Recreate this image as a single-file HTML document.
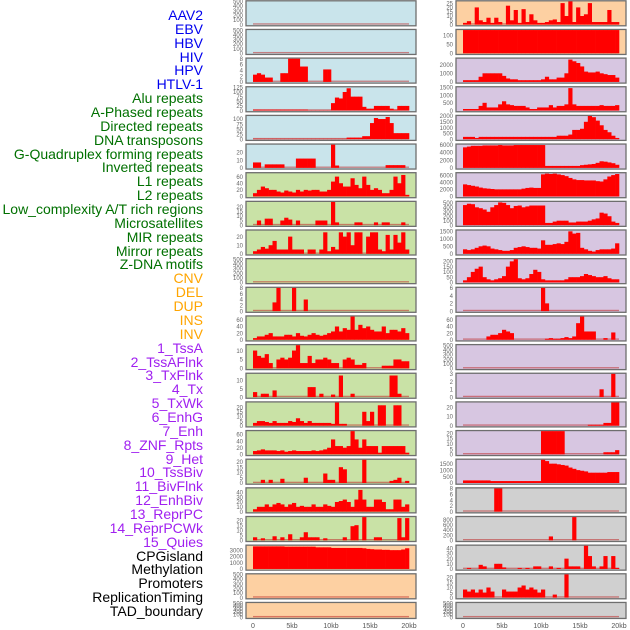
<!DOCTYPE html>
<html><head><meta charset="utf-8">
<style>
body{margin:0;background:#fff;width:630px;height:630px;overflow:hidden;font-family:"Liberation Sans",sans-serif}
#labels div{position:absolute;right:427px;font-size:14px;line-height:14px;white-space:nowrap}
</style></head>
<body>
<div id="labels"></div>
<svg id="chart" width="630" height="630" style="position:absolute;left:0;top:0"></svg>
<script>
const trackLabels=["AAV2","EBV","HBV","HIV","HPV","HTLV-1","Alu repeats","A-Phased repeats","Directed repeats","DNA transposons","G-Quadruplex forming repeats","Inverted repeats","L1 repeats","L2 repeats","Low_complexity A/T rich regions","Microsatellites","MIR repeats","Mirror repeats","Z-DNA motifs","CNV","DEL","DUP","INS","INV","1_TssA","2_TssAFlnk","3_TxFlnk","4_Tx","5_TxWk","6_EnhG","7_Enh","8_ZNF_Rpts","9_Het","10_TssBiv","11_BivFlnk","12_EnhBiv","13_ReprPC","14_ReprPCWk","15_Quies","CPGisland","Methylation","Promoters","ReplicationTiming","TAD_boundary"];
const labelGroups=[6,13,5,15,5];
const groupColors=["#0000ee","#007000","#ffa500","#a020f0","#000000"];
const xTicks=[0,5,10,15,20];
const xTickLabels=["0","5kb","10kb","15kb","20kb"];
const E=[];
const L0=E,L1=E;
const L2=[2.5,3,2.5,1.5,1.5,0,0,3,3,8,8,8,5.3,5.3,0,0,0,0,4.3,4.3];
const L3=[5,5,5,5,5,5,5,5,5,5,5,5,5,5,2,2,2,2,2,2,40,70,65,100,120,75,75,75,20,10,10,25,25,25,25,10,5,25,25,25];
const L4=[2,2,2,2,2,2,2,2,2,2,2,2,2,2,2,2,2,2,2,2,2,2,2,2,8,8,8,8,15,15,80,105,100,100,110,80,30,30,30,30];
const L5=[7,7,0,4.5,4.5,4.5,4.5,4.5,0,0,0,12,12,12,12,12,0,0,0,0,30,3,0,0,0,0,0,0,0,0,0,0,0,0,3.5,3.5,3.5,3.5,3.5,0];
const L6=[10,20,30,25,20,20,15,12,18,15,12,20,15,20,18,20,20,15,15,20,45,60,40,30,30,55,35,25,60,35,20,25,20,10,10,20,60,40,65,5];
const L7=[0,5,0,7,7,0,0,5,8,6,0,5,0,0,0,0,5,5,5,0,25,3,0,0,0,0,3,3,0,0,0,3,0,3,3,0,0,0,3,0];
const L8=[3,5,8,6,10,15,5,5,5,20,5,5,5,0,5,5,0,5,25,3,8,5,25,20,25,10,25,25,0,20,25,25,5,3,22,5,22,13,25,5];
const L9=E;
const L10=[0,0,0,0,0,3,8,0,0,0,8,0,0,4];
const L11=[5,10,10,15,20,10,10,10,15,15,10,20,12,10,15,20,15,12,15,20,25,40,25,35,30,70,30,45,35,40,30,25,25,40,20,30,30,25,35,20];
const L12=[10,7,6,8,3,0,5,6,5,6,10,13,3,3,7,3,5,5,6,5,3,3,0,5,6,5,2,2,3,0,0,0,0,1.5,1.5,1.5,5,5,4,4];
const L13=[3,0,2,2,0,4,0,0,0,0,0,0,0,0,6,6,0,2,0,0,1.5,0,13,0,0,2,0,0,0,0,0,0,0,0,0,13,13,2,0,0];
const L14=[3,5,5,4,3,5,3,3,3,5,4,8,5,3,5,3,3,3,3,3,2,25,2,2,0,0,0,0,15,5,15,0,22,22,0,0,22,22,0,0];
const L15=[10,12,15,12,12,12,10,12,8,10,12,10,10,10,10,12,10,12,15,20,45,25,25,20,25,70,45,20,45,25,25,25,5,25,25,25,25,25,25,5];
const L16=[0,0,3,0,3,0,0,4,0,0,0,0,0,5,0,0,0,0,9,3,3,0,15,13,0,0,0,0,22,0,0,0,0,0,0,2,3,5,0,2];
const L17=[5,10,10,15,10,15,18,15,10,15,18,10,12,10,10,15,10,10,15,12,10,20,22,25,20,10,25,45,25,10,10,25,25,20,5,5,25,25,10,15];
const L18=[3,0,2,0,0,4,0,3,0,6,0,0,3,8,3,3,3,0,2,0,0,0,0,3,0,14,15,0,23,0,0,3,3,0,0,0,0,22,3,22];
const L19=[3600,3600,3600,3600,3600,3600,3600,3600,3550,3550,3550,3550,3550,3550,3550,3550,3450,3450,3450,3450,3350,3350,3350,3350,3350,3350,3350,3350,3300,3200,3150,3100,3100,3050,3050,3000,3000,3000,3100,3300];
const L20=E,L21=E;
const R0=[2,4,0,20,5,3,8,2,8,3,0,22,5,17,2,18,3,12,5,2,2,3,5,6,3,25,10,28,3,20,10,12,25,3,3,3,3,17,3,3];
const R1=Array(40).fill(130);
const R2=[200,200,200,200,600,1000,1000,1000,1000,1000,700,400,300,300,200,200,200,200,200,200,300,600,300,300,500,500,1000,2600,2400,2200,1800,1200,1100,1100,1200,1000,900,800,800,500];
const R3=[100,100,100,100,300,500,200,200,200,400,600,400,350,300,300,300,200,100,100,200,200,200,350,200,300,300,400,1450,400,300,300,300,300,300,300,350,300,300,300,350];
const R4=[200,200,200,100,200,200,200,200,200,200,200,200,200,200,200,200,200,200,200,200,200,200,200,200,300,300,300,400,800,800,900,1500,2000,1900,1600,1200,800,600,300,100];
const R5=[5300,5500,5700,5700,5700,5800,5800,5800,5800,5900,5800,5800,5800,5900,5900,5900,5900,5900,5900,5900,5900,500,500,500,500,500,500,500,500,500,700,800,900,1000,1300,1700,1600,1400,1200,800];
const R6=[3400,3200,3000,2800,2500,2300,2200,2100,2000,2000,2000,2000,2000,2000,2000,2200,2400,2500,2400,2400,6200,6400,6300,6400,6200,6000,5700,5200,4800,4600,4600,4500,4500,4500,4300,4200,4800,5600,6000,6300];
const R7=[450,480,470,400,380,350,300,400,450,510,500,450,380,430,440,400,420,440,440,440,440,50,50,80,100,100,100,60,60,80,80,80,100,130,150,280,260,200,80,50];
const R8=[300,250,300,400,500,550,500,350,300,250,200,200,250,400,450,500,450,400,400,350,900,600,600,650,700,650,800,1500,1350,1400,400,300,200,150,250,300,300,300,350,700];
const R9=[20,50,100,130,150,50,30,20,30,40,60,150,200,220,40,30,40,80,120,100,30,20,20,20,20,20,30,50,50,50,60,80,70,60,50,50,60,40,30,30];
const R10=[0,0,0,0,0,0,0,0,0,0,0,0,0,0,0,0,0,0,0,0,6,2];
const R11=[0,0,0,0,0,0,10,15,15,20,30,25,20,0,0,0,0,0,0,0,0,3,5,3,3,5,8,5,10,50,70,25,25,25,0,0,5,0,22,0];
const R12=E;
const R13=[0,0,0,0,0,0,0,0,0,0,0,0,0,0,0,0,0,0,0,0,0,0,0,0,0,0,0,0,0,0,0,0,0,0,0,1,0,0,3,0];
const R14=[0,0,0,0,0,0,0,0,0,0,0,0,0,0,0,0,0,0,0,0,0,0,0,0,0,0,0,0,0,0,0,0,1,1,1,1,3,3,25,25];
const R15=[0,0,0,0,0,0,0,0,0,0,0,0,0,0,0,0,0,0,0,0,22,22,22,22,22,22,0,0,0,0,0,0,0,0,0,0,2,2,2,4];
const R16=[200,200,200,200,200,200,200,150,150,150,150,150,150,150,150,150,150,150,150,150,1800,1700,1500,1500,1450,1400,1350,1200,1100,1000,950,900,800,800,800,800,800,850,850,850];
const R17=[0,0,0,0,0,0,0,0,8,8];
const R18=[0,0,0,0,0,0,0,0,0,0,0,0,0,0,0,0,0,0,0,0,0,0,150,0,0,0,0,0,900];
const R19=[0,2,0,0,8,5,0,0,10,10,3,0,0,0,2,0,2,0,5,5,0,0,5,0,2,0,20,5,5,5,0,45,25,5,0,5,25,0,25,2];
const R20=[8,6,8,5,8,5,10,6,0,0,8,6,6,6,10,12,8,10,8,5,8,0,0,3,0,0,23];
const R21=E;
const leftSeries=[L0,L1,L2,L3,L4,L5,L6,L7,L8,L9,L10,L11,L12,L13,L14,L15,L16,L17,L18,L19,L20,L21];
const rightSeries=[R0,R1,R2,R3,R4,R5,R6,R7,R8,R9,R10,R11,R12,R13,R14,R15,R16,R17,R18,R19,R20,R21];
const leftMax=[500,500,8,125,115,30,70,25,27,500,8,70,13,14,25,70,22,48,23,3700,500,500];
const rightMax=[27,130,2700,1500,2000,6000,6500,520,1550,220,6,70,500,3,25,22,1800,8,900,45,23,500];
const leftTicks=[[0,100,200,300,400,500],[0,100,200,300,400,500],[0,2,4,6,8],[0,25,50,75,100,125],[0,25,50,75,100],[0,10,20],[0,20,40,60],[0,5,10,15,20],[0,10,20],[0,100,200,300,400,500],[0,2,4,6,8],[0,20,40,60],[0,5,10],[0,5,10],[0,5,10,15,20],[0,20,40,60],[0,5,10,15,20],[0,10,20,30,40],[0,5,10,15,20],[0,1000,2000,3000],[0,100,200,300,400,500],[0,100,200,300,400,500]];
const rightTicks=[[0,5,10,15,20,25],[0,50,100],[0,1000,2000],[0,500,1000,1500],[0,500,1000,1500,2000],[0,2000,4000,6000],[0,2000,4000,6000],[0,100,200,300,400,500],[0,500,1000,1500],[0,50,100,150,200],[0,2,4,6],[0,20,40,60],[0,100,200,300,400,500],[0,1,2,3],[0,10,20],[0,5,10,15,20],[0,500,1000,1500],[0,2,4,6,8],[0,200,400,600,800],[0,10,20,30,40],[0,5,10,15,20],[0,100,200,300,400,500]];
const leftBg=i=>i<6?"#c9e4eb":i<19?"#c9e2a6":"#fdd0a2";
const rightBg=i=>i<2?"#fdd0a2":i<17?"#d7c6e1":"#d0d0d0";

const NS="http://www.w3.org/2000/svg";
const svg=document.getElementById("chart");
function mk(tag,attrs,parent){const e=document.createElementNS(NS,tag);for(const k in attrs)e.setAttribute(k,attrs[k]);(parent||svg).appendChild(e);return e;}

const lab=document.getElementById("labels");
let li=0;
labelGroups.forEach((n,g)=>{for(let k=0;k<n;k++){const d=document.createElement("div");


d.style.top=(15+li*13.86-7)+"px";d.style.color=groupColors[g];d.textContent=trackLabels[li];lab.appendChild(d);li++;}});

const PITCH=28.65,PH=25;
function panel(col,i,vals,ymax,ticks,bg){
  const fx=col===0?246:456,fw=170;
  const x0=col===0?253:463,x20=col===0?409:619;
  const top=i*PITCH+0.8;
  const h=i===21?16:PH;
  const g=mk("g",{});
  
  
  mk("rect",{x:fx,y:top,width:fw,height:h,fill:bg,stroke:"#6e6e6e","stroke-width":1.3},g);
  const y0=top+h-1.2, yTop=top+0.6;
  const ys=v=>y0-(v/ymax)*(y0-yTop);
  const xs=v=>x0+(v/20)*(x20-x0);
  mk("rect",{x:xs(0),y:y0-1.3,width:xs(20)-xs(0),height:1.3,fill:"rgba(190,40,40,0.55)"},g);
  vals.forEach((v,k)=>{if(v<=0)return;const yy=Math.max(ys(v),yTop);
    const b=mk("rect",{x:xs(k*0.5),y:yy,width:xs((k+1)*0.5)-xs(k*0.5)+0.3,height:y0-yy,fill:"#ff0000"},g);
    
    });
  ticks.forEach(t=>{const ty=ys(t);if(ty<top-3)return;
    const tx=mk("text",{x:fx-3,y:ty+2.2,"text-anchor":"end","font-size":6,fill:"#666","font-family":"Liberation Sans, sans-serif"},g);
    tx.textContent=t;});
}
for(let i=0;i<22;i++){
  panel(0,i,leftSeries[i],leftMax[i],leftTicks[i],leftBg(i));
  panel(1,i,rightSeries[i],rightMax[i],rightTicks[i],rightBg(i));
}
[[253,409],[463,619]].forEach(([a,b],c)=>{xTicks.forEach((t,k)=>{
  const tx=mk("text",{x:a+(t/20)*(b-a),y:628,"text-anchor":"middle","font-size":7,fill:"#555","font-family":"Liberation Sans, sans-serif"});
  
  
  tx.textContent=xTickLabels[k];});});
</script>
</body></html>
